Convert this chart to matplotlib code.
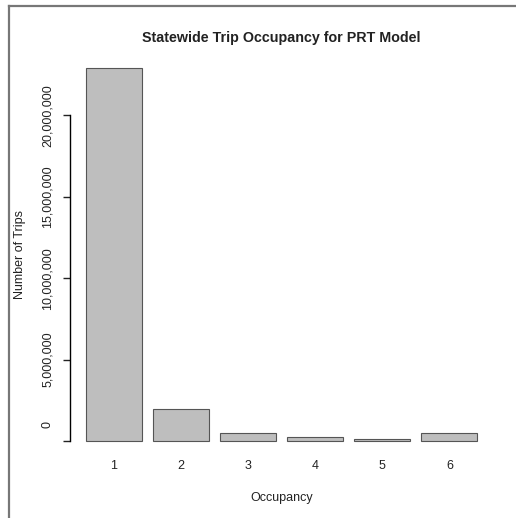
import matplotlib.pyplot as plt
from matplotlib.lines import Line2D
from matplotlib.ticker import FuncFormatter
from matplotlib.transforms import ScaledTranslation

plt.rcParams['font.family'] = ['Liberation Sans', 'DejaVu Sans']

occupancy = ["1", "2", "3", "4", "5", "6"]
trips = [22900000, 1950000, 480000, 220000, 110000, 510000]
yticks = [0, 5000000, 10000000, 15000000, 20000000]

W, H = 516, 518
fig = plt.figure(figsize=(W / 100, H / 100), dpi=100)

# plot region like R's barplot (4% axis extension)
x0, x1 = 70.3, 493.0
y0, y1 = 456.0, 53.0
ax = fig.add_axes([x0 / W, 1 - y0 / H, (x1 - x0) / W, (y0 - y1) / H])

pos = [0.7 + 1.2 * i for i in range(len(trips))]
ax.bar(pos, trips, width=1.0, color="#bebebe", edgecolor="#555555", linewidth=0.8)

xr = pos[-1] + 0.5 - (pos[0] - 0.5)
ax.set_xlim(pos[0] - 0.5 - 0.04 * xr, pos[-1] + 0.5 + 0.04 * xr)
ymax = max(trips)
ax.set_ylim(-0.04 * ymax, ymax * 1.04)

for s in ["top", "right", "bottom"]:
    ax.spines[s].set_visible(False)
ax.spines["left"].set_bounds(0, yticks[-1])
ax.spines["left"].set_linewidth(1.0)

ax.set_yticks(yticks)
ax.yaxis.set_major_formatter(FuncFormatter(lambda v, p: f"{int(v):,}"))
ax.tick_params(axis="y", length=5, width=1.0, pad=7, labelsize=9, labelrotation=90, colors="#222222")
for lab in ax.get_yticklabels():
    lab.set_va("center")
# the "0" label sits a little above its tick in the reference
zero = ax.get_yticklabels()[0]
zero.set_transform(zero.get_transform() + ScaledTranslation(0, 17 / 100, fig.dpi_scale_trans))

ax.set_xticks(pos)
ax.set_xticklabels(occupancy)
ax.tick_params(axis="x", length=0, pad=3, labelsize=9, colors="#222222")

ax.set_xlabel("Occupancy", fontsize=9, labelpad=14, color="#222222")
ax.set_ylabel("Number of Trips", fontsize=9, color="#222222")
ax.yaxis.set_label_coords((26 - x0) / (x1 - x0), 0.5)
fig.text((x0 + x1) / 2 / W, 1 - 38 / H, "Statewide Trip Occupancy for PRT Model",
         ha="center", va="center", fontsize=10.3, fontweight="bold", color="#222222")

# screenshot frame
fig.add_artist(Line2D([9 / W, 1], [1 - 6 / H, 1 - 6 / H], transform=fig.transFigure, color="#777777", lw=1.6))
fig.add_artist(Line2D([9 / W, 9 / W], [0, 1 - 6 / H], transform=fig.transFigure, color="#777777", lw=1.6))

fig.savefig("out.png", dpi=100)
plt.close(fig)
